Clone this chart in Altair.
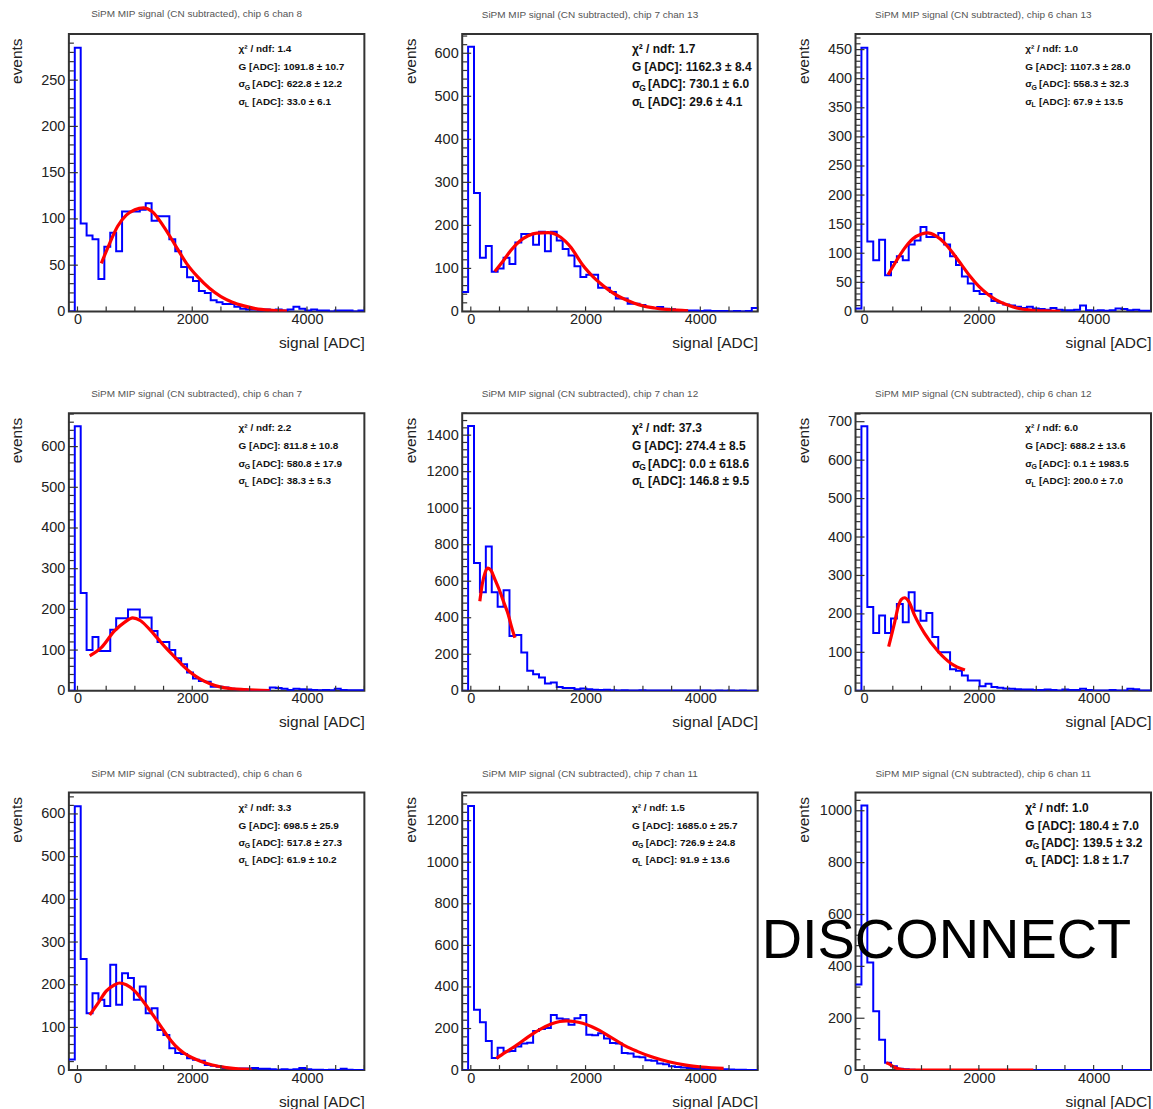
import altair as alt
import pandas as pd

# ---------------- data ----------------
BIN_LO = -150
BIN_HI = 5000
N_BINS = 50
X_DOMAIN = [-150, 5000]
X_LABELS = [0, 2000, 4000]
X_TICK_STEP = 500

TITLES = [
    "SiPM MIP signal (CN subtracted), chip 6 chan 8",
    "SiPM MIP signal (CN subtracted), chip 7 chan 13",
    "SiPM MIP signal (CN subtracted), chip 6 chan 13",
    "SiPM MIP signal (CN subtracted), chip 6 chan 7",
    "SiPM MIP signal (CN subtracted), chip 7 chan 12",
    "SiPM MIP signal (CN subtracted), chip 6 chan 12",
    "SiPM MIP signal (CN subtracted), chip 6 chan 6",
    "SiPM MIP signal (CN subtracted), chip 7 chan 11",
    "SiPM MIP signal (CN subtracted), chip 6 chan 11",
]

Y_MAX = [300, 645, 477, 682, 1520, 722, 650, 1335, 1070]
Y_LABELS = [
    [0, 50, 100, 150, 200, 250],
    [0, 100, 200, 300, 400, 500, 600],
    [0, 50, 100, 150, 200, 250, 300, 350, 400, 450],
    [0, 100, 200, 300, 400, 500, 600],
    [0, 200, 400, 600, 800, 1000, 1200, 1400],
    [0, 100, 200, 300, 400, 500, 600, 700],
    [0, 100, 200, 300, 400, 500, 600],
    [0, 200, 400, 600, 800, 1000, 1200],
    [0, 200, 400, 600, 800, 1000],
]

COUNTS_1 = [0, 285, 95, 82, 78, 35, 70, 85, 65, 108, 108, 108, 110, 117, 98, 103, 103, 78, 65, 48,
            37, 33, 22, 20, 12, 10, 8, 8, 5, 3, 2, 2, 1, 2, 1, 2, 1, 2, 5, 3,
            1, 2, 1, 1, 0, 1, 1, 1, 0, 1]
COUNTS_2 = [45, 615, 275, 125, 152, 92, 100, 125, 110, 160, 180, 180, 155, 185, 140, 185, 165, 145, 130, 105,
            80, 85, 85, 55, 55, 45, 30, 30, 18, 18, 15, 10, 8, 10, 6, 5, 3, 3, 2, 2,
            1, 2, 1, 1, 1, 0, 1, 0, 1, 8]
COUNTS_3 = [5, 453, 120, 88, 123, 62, 85, 95, 88, 115, 122, 145, 128, 128, 135, 115, 95, 80, 60, 48,
            35, 30, 30, 18, 15, 12, 10, 8, 6, 8, 5, 4, 3, 6, 3, 2, 2, 3, 10, 2,
            1, 2, 1, 2, 5, 4, 2, 3, 1, 1]
COUNTS_4 = [0, 650, 240, 100, 132, 98, 98, 150, 178, 178, 200, 200, 180, 180, 147, 120, 120, 100, 80, 65,
            45, 30, 24, 22, 10, 10, 8, 5, 4, 3, 2, 2, 1, 2, 8, 7, 5, 2, 5, 4,
            3, 2, 1, 2, 1, 5, 2, 1, 1, 1]
COUNTS_5 = [0, 1450, 700, 540, 790, 540, 460, 550, 300, 305, 210, 110, 90, 73, 40, 45, 20, 15, 15, 8,
            12, 8, 5, 4, 5, 3, 2, 3, 2, 1, 3, 2, 1, 2, 1, 1, 2, 1, 1, 2,
            1, 1, 0, 1, 0, 1, 0, 1, 0, 0]
COUNTS_6 = [0, 688, 218, 150, 196, 150, 188, 226, 178, 256, 208, 182, 202, 140, 100, 100, 56, 52, 40, 27,
            27, 12, 18, 10, 8, 6, 5, 4, 3, 3, 2, 2, 3, 2, 1, 3, 2, 2, 5, 2,
            1, 1, 1, 2, 1, 1, 5, 4, 1, 1]
COUNTS_7 = [25, 618, 260, 133, 180, 165, 150, 247, 153, 227, 216, 165, 196, 133, 145, 94, 82, 51, 40, 38,
            28, 24, 22, 12, 10, 8, 5, 5, 3, 4, 4, 5, 3, 3, 2, 1, 2, 1, 2, 5,
            2, 1, 1, 0, 1, 0, 3, 1, 0, 0]
COUNTS_8 = [0, 1270, 290, 230, 140, 58, 108, 89, 92, 113, 128, 132, 188, 198, 202, 265, 248, 245, 218, 250,
            265, 170, 168, 177, 152, 130, 128, 82, 80, 64, 62, 48, 45, 32, 28, 18, 15, 12, 10, 8,
            6, 4, 5, 8, 4, 3, 2, 2, 1, 1]
COUNTS_9 = [330, 1020, 415, 227, 117, 28, 15, 5, 3, 1, 0, 0, 0, 0, 0, 0, 0, 0, 0, 0,
            0, 0, 0, 0, 0, 0, 0, 0, 0, 0, 0, 0, 0, 0, 0, 0, 0, 0, 0, 0,
            0, 0, 0, 0, 0, 0, 0, 0, 0, 0]
COUNTS = [COUNTS_1, COUNTS_2, COUNTS_3, COUNTS_4, COUNTS_5, COUNTS_6, COUNTS_7, COUNTS_8, COUNTS_9]

FIT_X_1 = [415, 550, 700, 850, 1000, 1150, 1300, 1500, 1700, 1900, 2100, 2300, 2500, 2700, 2900, 3100, 3400, 3650]
FIT_Y_1 = [52, 72, 92, 104, 110, 112, 108, 92, 72, 52, 37, 25, 16, 10, 6, 3, 1.1, 0.3]
FIT_X_2 = [418, 550, 700, 850, 1000, 1150, 1350, 1500, 1650, 1750, 1850, 1950, 2050, 2150, 2250, 2400, 2550, 2700, 2850, 3000, 3200, 3450, 3788]
FIT_Y_2 = [93, 115, 142, 163, 176, 182, 183, 178, 163, 148, 128, 108, 92, 78, 66, 50, 37, 27, 19, 13, 8, 4, 1.5]
FIT_X_3 = [416, 550, 700, 850, 1000, 1110, 1250, 1400, 1550, 1700, 1850, 2000, 2150, 2300, 2500, 2700, 2900, 3150, 3420]
FIT_Y_3 = [63, 85, 108, 125, 133, 135, 130, 118, 100, 80, 60, 43, 30, 20, 11, 5, 2.5, 1, 0.3]
FIT_X_4 = [213, 415, 645, 818, 962, 1100, 1250, 1400, 1550, 1700, 1850, 2000, 2150, 2300, 2500, 2700, 2900, 3100, 3350]
FIT_Y_4 = [86, 106, 147, 168, 179, 172, 152, 128, 104, 82, 60, 42, 28, 18, 9, 5, 3, 1.5, 0.5]
FIT_X_5 = [157, 200, 250, 300, 350, 420, 506, 580, 652, 710, 768]
FIT_Y_5 = [490, 585, 648, 672, 660, 610, 545, 480, 418, 350, 290]
FIT_X_6 = [428, 532, 600, 650, 705, 780, 880, 1050, 1280, 1514, 1757]
FIT_Y_6 = [115, 178, 222, 238, 242, 232, 196, 150, 104, 71, 54]
FIT_X_7 = [213, 350, 500, 650, 731, 850, 1000, 1150, 1300, 1450, 1567, 1700, 1855, 2000, 2143, 2350, 2600, 2800, 3035]
FIT_Y_7 = [129, 155, 185, 200, 204, 200, 185, 160, 132, 103, 80, 58, 40, 29, 21, 12, 6, 3, 2]
FIT_X_8 = [448, 600, 800, 1000, 1200, 1400, 1550, 1670, 1800, 1950, 2100, 2250, 2400, 2550, 2700, 2900, 3150, 3450, 3750, 4030, 4406]
FIT_Y_8 = [56, 85, 120, 160, 195, 222, 234, 237, 234, 225, 210, 190, 165, 140, 115, 90, 64, 40, 24, 15, 8]
FIT_X_9 = [386, 450, 520, 600, 700, 800, 1000, 2000, 2950]
FIT_Y_9 = [28, 22, 12, 5, 1.5, 0.5, 0, 0, 0]
FIT_X = [FIT_X_1, FIT_X_2, FIT_X_3, FIT_X_4, FIT_X_5, FIT_X_6, FIT_X_7, FIT_X_8, FIT_X_9]
FIT_Y = [FIT_Y_1, FIT_Y_2, FIT_Y_3, FIT_Y_4, FIT_Y_5, FIT_Y_6, FIT_Y_7, FIT_Y_8, FIT_Y_9]

STAT_CHI = ["χ² / ndf: 1.4", "χ² / ndf: 1.7", "χ² / ndf: 1.0", "χ² / ndf: 2.2", "χ² / ndf: 37.3",
            "χ² / ndf: 6.0", "χ² / ndf: 3.3", "χ² / ndf: 1.5", "χ² / ndf: 1.0"]
STAT_G = ["G [ADC]: 1091.8 ± 10.7", "G [ADC]: 1162.3 ± 8.4", "G [ADC]: 1107.3 ± 28.0",
          "G [ADC]: 811.8 ± 10.8", "G [ADC]: 274.4 ± 8.5", "G [ADC]: 688.2 ± 13.6",
          "G [ADC]: 698.5 ± 25.9", "G [ADC]: 1685.0 ± 25.7", "G [ADC]: 180.4 ± 7.0"]
STAT_SG = ["[ADC]: 622.8 ± 12.2", "[ADC]: 730.1 ± 6.0", "[ADC]: 558.3 ± 32.3",
           "[ADC]: 580.8 ± 17.9", "[ADC]: 0.0 ± 618.6", "[ADC]: 0.1 ± 1983.5",
           "[ADC]: 517.8 ± 27.3", "[ADC]: 726.9 ± 24.8", "[ADC]: 139.5 ± 3.2"]
STAT_SL = ["[ADC]: 33.0 ± 6.1", "[ADC]: 29.6 ± 4.1", "[ADC]: 67.9 ± 13.5",
           "[ADC]: 38.3 ± 5.3", "[ADC]: 146.8 ± 9.5", "[ADC]: 200.0 ± 7.0",
           "[ADC]: 61.9 ± 10.2", "[ADC]: 91.9 ± 13.6", "[ADC]: 1.8 ± 1.7"]
STAT_BIG = [False, True, False, False, True, False, False, False, True]

OVERLAY_PANEL = 8
OVERLAY_TEXT = "DISCONNECTED"

# ---------------- layout / style ----------------
W, H = 296, 278
FONT = "Liberation Sans"
INK = "#222222"
X_TITLE = "signal [ADC]"
Y_TITLE = "events"

xscale = alt.Scale(domain=X_DOMAIN, nice=False, zero=False)


def panel(i):
    yscale = alt.Scale(domain=[0, Y_MAX[i]], nice=False, zero=True)
    labels = Y_LABELS[i]
    xaxis = alt.Axis(
        orient="bottom", values=X_LABELS, title=X_TITLE, grid=False, ticks=False,
        domain=False, labels=True, format="d",
        labelFont=FONT, labelFontSize=14.5, labelColor=INK, labelPadding=1,
        titleFont=FONT, titleFontSize=15.5, titleFontWeight="normal", titleColor=INK,
        titleAlign="right", titleX=W, titleY=24,
    )
    yaxis = alt.Axis(
        orient="left", values=labels, title=Y_TITLE, grid=False, ticks=False,
        domain=False, labels=True, format="d",
        labelFont=FONT, labelFontSize=14.5, labelColor=INK, labelPadding=4,
        titleFont=FONT, titleFontSize=15.5, titleFontWeight="normal", titleColor=INK,
        titleAlign="right", titleX=-44, titleY=4,
    )

    edges = [BIN_LO + k * (BIN_HI - BIN_LO) / N_BINS for k in range(N_BINS + 1)]
    counts = COUNTS[i] + [COUNTS[i][-1]]
    hist_df = pd.DataFrame({"x": edges, "y": counts})
    fit_df = pd.DataFrame({"x": FIT_X[i], "y": FIT_Y[i]})

    step = labels[1] - labels[0]
    minor_step = step / 5
    minor = []
    v = 0.0
    while v <= Y_MAX[i]:
        if all(abs(v - m) > 1e-6 for m in labels):
            minor.append(v)
        v += minor_step
    xt = list(range(0, BIN_HI + 1, X_TICK_STEP))

    hist = alt.Chart(hist_df).mark_line(
        interpolate="step-after", color="#0000ff", strokeWidth=2, clip=True
    ).encode(
        x=alt.X("x:Q", scale=xscale, axis=xaxis),
        y=alt.Y("y:Q", scale=yscale, axis=yaxis),
    )
    fit = alt.Chart(fit_df).mark_line(
        interpolate="monotone", color="#ff0000", strokeWidth=3.2, clip=True
    ).encode(
        x=alt.X("x:Q", scale=xscale, axis=xaxis),
        y=alt.Y("y:Q", scale=yscale, axis=yaxis),
    )
    ymaj = alt.Chart(pd.DataFrame({"y": labels})).mark_rule(color="#333", strokeWidth=1.2).encode(
        y=alt.Y("y:Q", scale=yscale, axis=yaxis), x=alt.value(0), x2=alt.value(9))
    ymin = alt.Chart(pd.DataFrame({"y": minor})).mark_rule(color="#333", strokeWidth=1.2).encode(
        y=alt.Y("y:Q", scale=yscale, axis=yaxis), x=alt.value(0), x2=alt.value(5))
    xtk = alt.Chart(pd.DataFrame({"x": xt})).mark_rule(color="#333", strokeWidth=1.2).encode(
        x=alt.X("x:Q", scale=xscale, axis=xaxis), y=alt.value(H), y2=alt.value(H - 5))

    big = STAT_BIG[i]
    fs = 12 if big else 10
    sfs = 8.5 if big else 7
    x0 = 170
    ys = [15, 33, 50.5, 68]
    sig_w = 0.62 * fs
    rest_x = x0 + sig_w + 0.8 * sfs + 2

    def txt(s, x, y, size):
        return alt.Chart(pd.DataFrame({"t": [s]})).mark_text(
            font=FONT, fontSize=size, fontWeight="bold", color="#111",
            align="left", baseline="middle"
        ).encode(text="t:N", x=alt.value(x), y=alt.value(y))

    texts = [
        txt(STAT_CHI[i], x0, ys[0], fs),
        txt(STAT_G[i], x0, ys[1], fs),
        txt("σ", x0, ys[2], fs),
        txt("G", x0 + sig_w, ys[2] + 3.5, sfs),
        txt(STAT_SG[i], rest_x, ys[2], fs),
        txt("σ", x0, ys[3], fs),
        txt("L", x0 + sig_w, ys[3] + 3.5, sfs),
        txt(STAT_SL[i], rest_x, ys[3], fs),
    ]
    layers = [hist, fit, ymaj, ymin, xtk] + texts
    if i == OVERLAY_PANEL:
        layers.append(
            alt.Chart(pd.DataFrame({"t": [OVERLAY_TEXT]})).mark_text(
                font=FONT, fontSize=56, color="black", align="left",
                baseline="alphabetic", limit=390, ellipsis=" "
            ).encode(text="t:N", x=alt.value(-94), y=alt.value(166))
        )
    return alt.layer(*layers).properties(
        width=W, height=H,
        title=alt.TitleParams(
            TITLES[i], font=FONT, fontSize=10, fontWeight="normal", color="#555",
            anchor="middle", baseline="bottom", offset=4, dx=-20,
        ),
    )


chart = alt.concat(
    *[panel(i) for i in range(9)],
    columns=3,
    spacing={"row": 102, "column": 98},
    bounds="flush",
).properties(
    padding={"left": 8, "top": 7, "right": 0, "bottom": 0}
).configure_view(stroke="#333", strokeWidth=2)

chart.save("out.html", embed_options={"renderer": "svg", "actions": False})
